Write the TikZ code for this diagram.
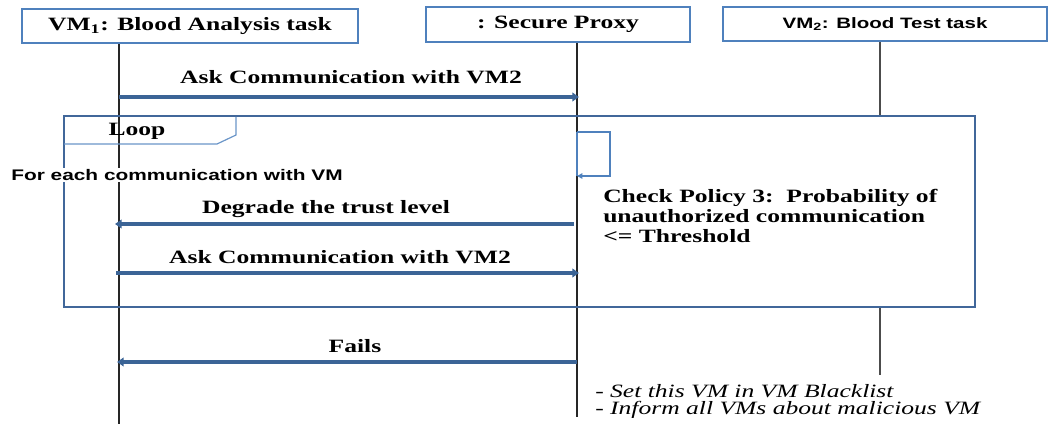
\documentclass[tikz,border=0pt]{standalone}
\usepackage{fontspec}
\setmainfont{Liberation Serif}[FakeStretch=1.36]
\setsansfont{Liberation Sans}[FakeStretch=1.36]
\usetikzlibrary{arrows.meta}
\definecolor{boxblue}{HTML}{4F81BD}
\definecolor{arrowblue}{HTML}{3B6496}
\definecolor{loopblue}{HTML}{41679A}
\definecolor{tagblue}{HTML}{6A95C8}
\begin{document}
\begin{tikzpicture}[x=0.75pt,y=-0.75pt,
  hdr/.style={draw=boxblue,line width=2.2pt,fill=white,inner sep=0pt},
  serifb/.style={font=\fontsize{14.1pt}{15pt}\selectfont\bfseries},
  sansb/.style={font=\fontsize{11.3pt}{13pt}\selectfont\sffamily\bfseries},
  lifeline/.style={draw=black!85,line width=1.1pt},
  msg/.style={draw=arrowblue,line width=3pt,-{Triangle[length=5pt,width=6.5pt]}},
  lbl/.style={serifb,inner sep=0pt}]
\useasboundingbox (0,0) rectangle (1051,424);
% header boxes
\node[hdr,minimum width=252pt,minimum height=25.5pt,serifb] (vm1) at (190,26) {VM\textsubscript{1}: Blood Analysis task};
\node[hdr,minimum width=198pt,minimum height=26.25pt,serifb] (proxy) at (558,24.5) {: Secure Proxy};
\node[hdr,minimum width=243pt,minimum height=25.5pt,sansb] (vm2) at (885,24) {VM\textsubscript{2}: Blood Test task};
% lifeline coordinates
\coordinate (l1end) at (119,424);
\coordinate (l2end) at (577,417);
\coordinate (l3a) at (880,116);
\coordinate (l3b) at (880,307);
\coordinate (l3end) at (880,375);
\draw[lifeline] (vm1.south -| l1end) -- (l1end);
\draw[lifeline] (proxy.south -| l2end) -- (l2end);
\draw[lifeline,draw=black!70] (vm2.south -| l3a) -- (l3a);
\draw[lifeline,draw=black!70] (l3b) -- (l3end);
% first message
\coordinate (m1s) at (119,97);
\coordinate (m1e) at (579,97);
\draw[msg] (m1s) -- (m1e);
\node[lbl] (m1t) at (351,77) {Ask Communication with VM2};
% loop frame
\coordinate (loopnw) at (64,116);
\coordinate (loopse) at (975,307);
\draw[draw=loopblue,line width=2.2pt] (loopnw) rectangle (loopse);
\coordinate (tag1) at (64,144);
\coordinate (tag2) at (217,144);
\coordinate (tag3) at (236,135);
\coordinate (tag4) at (236,117);
\draw[draw=tagblue,line width=0.9pt] (tag1) -- (tag2) -- (tag3) -- (tag4);
\node[lbl] (looptxt) at (137,131) {Loop};
\node[fill=white,inner sep=1pt,font=\fontsize{11.5pt}{13pt}\selectfont\sffamily\bfseries] (foreach) at (177,175) {For each communication with VM};
% self message
\coordinate (s1) at (577,132);
\coordinate (s2) at (610,132);
\coordinate (s3) at (610,176);
\coordinate (s4) at (577,176);
\draw[draw=boxblue,line width=1.1pt] (s4) -- (s1);
\draw[draw=boxblue,line width=1.1pt,-{Triangle[length=4pt,width=4pt]}] (s1) -- (s2) -- (s3) -- (s4);
\node[lbl,anchor=north west,align=left] (policy) at (603,189) {Check Policy 3:\ \ Probability of\\unauthorized communication\\<= Threshold};
% loop messages
\coordinate (m2s) at (574,224);
\coordinate (m2e) at (115,224);
\draw[msg] (m2s) -- (m2e);
\node[lbl] (m2t) at (326,209) {Degrade the trust level};
\coordinate (m3s) at (116,273);
\coordinate (m3e) at (579,273);
\draw[msg] (m3s) -- (m3e);
\node[lbl] (m3t) at (340,257) {Ask Communication with VM2};
% fails
\coordinate (m4s) at (577,362);
\coordinate (m4e) at (117,362);
\draw[msg] (m4s) -- (m4e);
\node[lbl] (m4t) at (355,346) {Fails};
% notes
\node[anchor=north west,align=left,inner sep=0pt,font=\fontsize{14.1pt}{12.8pt}\selectfont\itshape] (notes) at (595,384) {- Set this VM in VM Blacklist\\- Inform all VMs about malicious VM};
\end{tikzpicture}
\end{document}
